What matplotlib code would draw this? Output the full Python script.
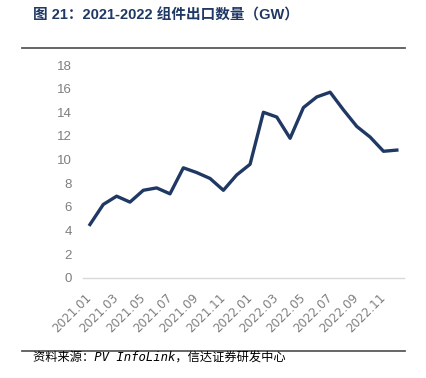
import matplotlib
matplotlib.use("Agg")
import matplotlib.pyplot as plt
from matplotlib.lines import Line2D

# monthly module exports, GW
months = ["2021.01", "2021.02", "2021.03", "2021.04", "2021.05", "2021.06",
          "2021.07", "2021.08", "2021.09", "2021.10", "2021.11", "2021.12",
          "2022.01", "2022.02", "2022.03", "2022.04", "2022.05", "2022.06",
          "2022.07", "2022.08", "2022.09", "2022.10", "2022.11", "2022.12"]
exports = [4.5, 6.2, 6.9, 6.4, 7.4, 7.6, 7.1, 9.3, 8.9, 8.4, 7.4, 8.7,
           9.6, 14.0, 13.6, 11.8, 14.4, 15.3, 15.7, 14.2, 12.8, 11.9, 10.7, 10.8]
yticks = [0, 2, 4, 6, 8, 10, 12, 14, 16, 18]

title = "图 21：2021-2022 组件出口数量（GW）"
source = "资料来源：PV InfoLink，信达证券研发中心"

fig = plt.figure(figsize=(4.27, 3.78), dpi=100)
ax = fig.add_axes([0.195, 0.2653, 0.75, 0.5627])

x = list(range(len(months)))
ax.plot(x, exports, color="#203864", linewidth=2.4, solid_joinstyle="round")

ax.set_xlim(-0.5, len(months) - 0.5)
ax.set_ylim(0, 18)
ax.set_yticks(yticks)
ax.set_yticklabels([str(v) for v in yticks], family=["Liberation Sans"],
                   fontsize=9.5, color="#7f7f7f")
ax.set_xticks(x[::2])
ax.set_xticklabels(months[::2], rotation=45, ha="right", va="center",
                   rotation_mode="anchor", family=["DejaVu Sans"],
                   fontsize=8.6, color="#7f7f7f")
ax.tick_params(axis="both", length=0)
ax.tick_params(axis="y", pad=8)
ax.tick_params(axis="x", pad=13)
for s in ["top", "right", "left"]:
    ax.spines[s].set_visible(False)
ax.spines["bottom"].set_color("#d9d9d9")
ax.spines["bottom"].set_linewidth(1)

fig.text(0.077, 0.978, title, fontsize=10.5, fontweight="bold", color="#1f3864",
         family=["Liberation Sans", "Noto Sans CJK SC"], va="top", ha="left")
fig.add_artist(Line2D([0.052, 0.948], [1 - 47.5 / 378] * 2, color="#595959", linewidth=1.3))
fig.add_artist(Line2D([0.052, 0.948], [1 - 351 / 378] * 2, color="#595959", linewidth=1.3))
fig.text(0.077, 1 - 358 / 378, source, fontsize=8.8, style="italic", color="#000000",
         family=["DejaVu Sans Mono", "Noto Sans CJK SC"], va="center", ha="left")

fig.savefig("out.png", dpi=100)
